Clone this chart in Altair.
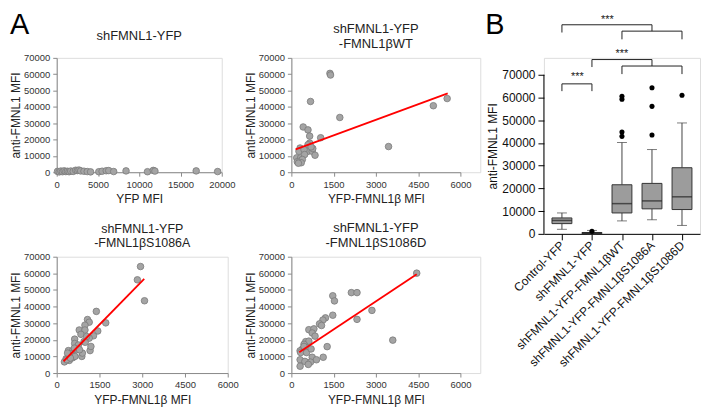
import altair as alt
import pandas as pd

FONT = "Liberation Sans"
Y_TICKS = [0, 10000, 20000, 30000, 40000, 50000, 60000, 70000]
AX = "#8a8a8a"

# ---------- Panel A: scatter data ----------
a1_x = [100, 300, 500, 700, 900, 1100, 1300, 1500, 1700, 2000, 2300, 2500, 2700, 2900,
        3300, 3700, 4100, 5100, 5500, 6000, 6300, 6900, 8400, 11000, 11700, 11900, 16900, 19500]
a1_y = [500, 200, 700, 300, 800, 400, 600, 300, 700, 500, 1200, 1000, 1300, 800,
        600, 400, 200, 300, 600, 900, 1000, 400, 800, 300, 1100, 700, 800, 400]

a2_x = [1370, 1390, 680, 1720, 420, 590, 650, 1040, 650, 590, 310, 270, 590, 450, 740,
        840, 190, 330, 470, 210, 300, 390, 3450, 5040, 5530, 760, 700, 350, 250]
a2_y = [60500, 59500, 43300, 33500, 27700, 25900, 22100, 21100, 17800, 16800, 14800, 12800,
        12800, 13800, 12800, 10400, 8800, 8800, 10800, 6400, 6800, 7800, 15700, 40700, 45100,
        14500, 15500, 5800, 5500]
a2_fit_x = [150, 5550]
a2_fit_y = [14000, 48300]

a3_x = [2940, 2830, 3080, 1390, 1080, 1140, 990, 790, 990, 1720, 1440, 850, 1290, 1140, 630,
        630, 960, 1170, 880, 760, 410, 560, 500, 330, 270, 440, 560, 640, 700, 1000, 1200, 350,
        480, 900, 620, 800, 1050, 380]
a3_y = [64100, 56100, 43500, 37100, 32200, 30600, 28800, 25900, 25900, 30200, 25300, 23300,
        22400, 21000, 20400, 17800, 19000, 13500, 10000, 16900, 13500, 13500, 11600, 8600, 6700,
        7600, 9200, 10000, 14000, 18500, 16000, 8000, 9000, 12000, 15000, 14000, 22000, 12000]
a3_fit_x = [240, 3070]
a3_fit_y = [7100, 56700]

a4_x = [4450, 2130, 2330, 1470, 1530, 2860, 1470, 2330, 1210, 1120, 1000, 1070, 620, 800, 740,
        840, 3600, 510, 620, 450, 570, 390, 310, 1270, 1130, 740, 890, 680, 310, 480, 600, 310,
        330, 540, 450, 700]
a4_y = [60100, 48400, 48400, 46500, 43400, 37700, 34800, 32300, 33200, 31900, 29600, 28600,
        26100, 26600, 24100, 22200, 19800, 18900, 19200, 17300, 15300, 14400, 13400, 15900, 9500,
        9500, 8000, 6600, 8000, 7000, 5200, 4100, 12300, 12300, 16000, 14500]
a4_fit_x = [280, 4450]
a4_fit_y = [12500, 59500]

# ---------- Panel B: box plot summaries ----------
groups = ["Control-YFP", "shFMNL1-YFP", "shFMNL1-YFP-FMNL1βWT",
          "shFMNL1-YFP-FMNL1βS1086A", "shFMNL1-YFP-FMNL1βS1086D"]
box_low = [2000, 0, 5700, 6200, 3700]
box_q1 = [4500, 100, 9200, 11000, 10700]
box_med = [5900, 350, 13300, 14500, 16300]
box_q3 = [7000, 600, 21600, 22200, 29100]
box_high = [9200, 1500, 40200, 37100, 48800]
out_group = ["shFMNL1-YFP", "shFMNL1-YFP-FMNL1βWT", "shFMNL1-YFP-FMNL1βWT",
             "shFMNL1-YFP-FMNL1βWT", "shFMNL1-YFP-FMNL1βWT", "shFMNL1-YFP-FMNL1βS1086A",
             "shFMNL1-YFP-FMNL1βS1086A", "shFMNL1-YFP-FMNL1βS1086A", "shFMNL1-YFP-FMNL1βS1086D"]
out_value = [1100, 60500, 59200, 44800, 42900, 64300, 56100, 43500, 61000]

C, S, W, A, D = groups
sig_from = [C, C, S, S, S, A, W, W, D, C, C, A, W, W, D]
sig_to = [S, C, S, A, S, A, D, W, D, A, C, A, D, W, D]
sig_y1 = [66000, 66000, 66000, 76700, 76700, 76700, 73850, 73850, 73850,
          92000, 92000, 92000, 89200, 89200, 89200]
sig_y2 = [66000, 62800, 62800, 76700, 73400, 73850, 73850, 70300, 70300,
          92000, 88600, 89200, 89200, 85600, 85600]
star_mid_group = [C, S]       # stars placed between two categories
star_mid_y = [68800, 94000]
star_on_group = [W]
star_on_y = [79300]

panel_letters = ["A", "B"]


def a_axis(values, title, is_x):
    return alt.Axis(values=values, title=title, format="d", grid=False,
                    domainColor=AX, tickColor=AX, tickSize=4, labelFontSize=9.5,
                    labelColor="#333", titleFontSize=12, titleFontWeight="normal",
                    titleColor="#222", labelPadding=3, titlePadding=(5 if is_x else 1),
                    labelFlush=False, labelOverlap=False)


def scatter(xs, ys, xmax, xticks, xtitle, width, rng, height, title, t_off, t_dx, t_size,
            fit=None):
    xsc = alt.Scale(domain=[0, xmax], range=[0, rng], nice=False)
    ysc = alt.Scale(domain=[0, 70000], nice=False)
    xax = a_axis(xticks, xtitle, True)
    yax = a_axis(Y_TICKS, "anti-FMNL1 MFI", False)
    df = pd.DataFrame({"x": xs, "y": ys})
    layers = [alt.Chart(df).mark_circle(size=44, color="#a4a4a4", stroke="#7a7a7a",
                                        strokeWidth=0.8, opacity=1).encode(
        x=alt.X("x:Q", scale=xsc, axis=xax),
        y=alt.Y("y:Q", scale=ysc, axis=yax))]
    if fit is not None:
        fdf = pd.DataFrame({"x": fit[0], "y": fit[1]})
        layers.append(alt.Chart(fdf).mark_line(color="#ff0000", strokeWidth=1.8).encode(
            x=alt.X("x:Q", scale=xsc, axis=xax), y=alt.Y("y:Q", scale=ysc, axis=yax)))
    return alt.layer(*layers).properties(
        width=width, height=height,
        title=alt.Title(title, fontSize=t_size, fontWeight="normal", color="#222",
                        offset=t_off, dx=t_dx, frame="group", anchor="middle"))


A1 = scatter(a1_x, a1_y, 20000, [0, 5000, 10000, 15000, 20000], "YFP MFI",
             166, 166, 115, "shFMNL1-YFP", 10, 0, 13)
A2 = scatter(a2_x, a2_y, 6000, [0, 1500, 3000, 4500, 6000], "YFP-FMNL1β MFI",
             190, 170, 115, ["shFMNL1-YFP", "-FMNL1βWT"], 2, -10, 13, fit=(a2_fit_x, a2_fit_y))
A3 = scatter(a3_x, a3_y, 6000, [0, 1500, 3000, 4500, 6000], "YFP-FMNL1β MFI",
             172, 172, 117, ["shFMNL1-YFP", "-FMNL1βS1086A"], 2, 0, 12.5, fit=(a3_fit_x, a3_fit_y))
A4 = scatter(a4_x, a4_y, 6000, [0, 1500, 3000, 4500, 6000], "YFP-FMNL1β MFI",
             190, 170, 117, ["shFMNL1-YFP", "-FMNL1βS1086D"], 2, -10, 13, fit=(a4_fit_x, a4_fit_y))

# ---------- Panel B ----------
B_H = 177
yB = alt.Scale(domain=[0, 77440], nice=False)
xB = alt.Scale(type="point", domain=groups, padding=0.6)
xaxB = alt.Axis(title=None, labelAngle=315, labelAlign="right", labelBaseline="middle",
                labelFontSize=12, labelLimit=300, labelColor="#111", domainColor="black",
                tickColor="black", tickSize=6, labelPadding=3, labelOverlap=False, grid=False)
yaxB = alt.Axis(values=Y_TICKS, format="d", title="anti-FMNL1 MFI", domain=False,
                tickColor="black", tickSize=6, labelFontSize=12, labelColor="#111",
                titleFontSize=12, titleFontWeight="normal", titleColor="#111",
                labelPadding=3, titlePadding=2, grid=False, labelOverlap=False)

bdf = pd.DataFrame({"g": groups, "lo": box_low, "q1": box_q1, "med": box_med,
                    "q3": box_q3, "hi": box_high})
odf = pd.DataFrame({"g": out_group, "v": out_value})
sdf = pd.DataFrame({"g": sig_from, "g2": sig_to, "y1": sig_y1, "y2": sig_y2})


def xg():
    return alt.X("g:N", scale=xB, sort=groups, axis=xaxB)


def yq(field):
    return alt.Y(field, scale=yB, axis=yaxB)


whisk_lo = alt.Chart(bdf).mark_rule(color="#444", strokeWidth=1).encode(
    x=xg(), y=yq("lo:Q"), y2="q1:Q")
whisk_hi = alt.Chart(bdf).mark_rule(color="#444", strokeWidth=1).encode(
    x=xg(), y=yq("q3:Q"), y2="hi:Q")
cap_lo = alt.Chart(bdf).mark_tick(color="#444", size=10, thickness=1).encode(
    x=xg(), y=yq("lo:Q"))
cap_hi = alt.Chart(bdf).mark_tick(color="#444", size=10, thickness=1).encode(
    x=xg(), y=yq("hi:Q"))
box = alt.Chart(bdf).mark_bar(size=20, color="#9c9c9c", stroke="#333", strokeWidth=1).encode(
    x=xg(), y=yq("q1:Q"), y2="q3:Q")
median = alt.Chart(bdf).mark_tick(color="#222", size=20, thickness=1.5).encode(
    x=xg(), y=yq("med:Q"))
outl = alt.Chart(odf).mark_circle(size=26, color="black", opacity=1).encode(
    x=xg(), y=yq("v:Q"))
brackets = alt.Chart(sdf).mark_rule(color="#222", strokeWidth=1).encode(
    x=xg(), x2="g2:N", y=yq("y1:Q"), y2="y2:Q")
stars_mid = alt.Chart(pd.DataFrame({"g": star_mid_group, "y": star_mid_y})).mark_text(
    fontSize=11, dx=15.5, baseline="middle", color="#222").encode(
    x=xg(), y=yq("y:Q"), text=alt.value("***"))
stars_on = alt.Chart(pd.DataFrame({"g": star_on_group, "y": star_on_y})).mark_text(
    fontSize=11, baseline="middle", color="#222").encode(
    x=xg(), y=yq("y:Q"), text=alt.value("***"))
axis_line = alt.Chart(pd.DataFrame({"a": [0], "b": [70000]})).mark_rule(
    color="black", strokeWidth=1).encode(x=alt.value(0), y=yq("a:Q"), y2="b:Q")
letter_a = alt.Chart(pd.DataFrame({"t": [panel_letters[0]]})).mark_text(
    fontSize=29, align="left", baseline="alphabetic", color="black").encode(
    text="t:N", x=alt.value(-537), y=alt.value(-24))
letter_b = alt.Chart(pd.DataFrame({"t": [panel_letters[1]]})).mark_text(
    fontSize=29, align="left", baseline="alphabetic", color="black").encode(
    text="t:N", x=alt.value(-59), y=alt.value(-24))

Bp = alt.layer(whisk_lo, whisk_hi, cap_lo, cap_hi, box, median, outl, brackets,
               stars_mid, stars_on, axis_line, letter_a, letter_b).properties(
    width=157, height=B_H)

chart = alt.concat(A1, A2, Bp, A3, A4, columns=3, spacing={"row": 23, "column": 64},
                   bounds="flush", align="each").properties(padding=1).configure_view(
    stroke=None).configure(font=FONT)

chart.save("out.html", embed_options={"renderer": "svg", "actions": False})
